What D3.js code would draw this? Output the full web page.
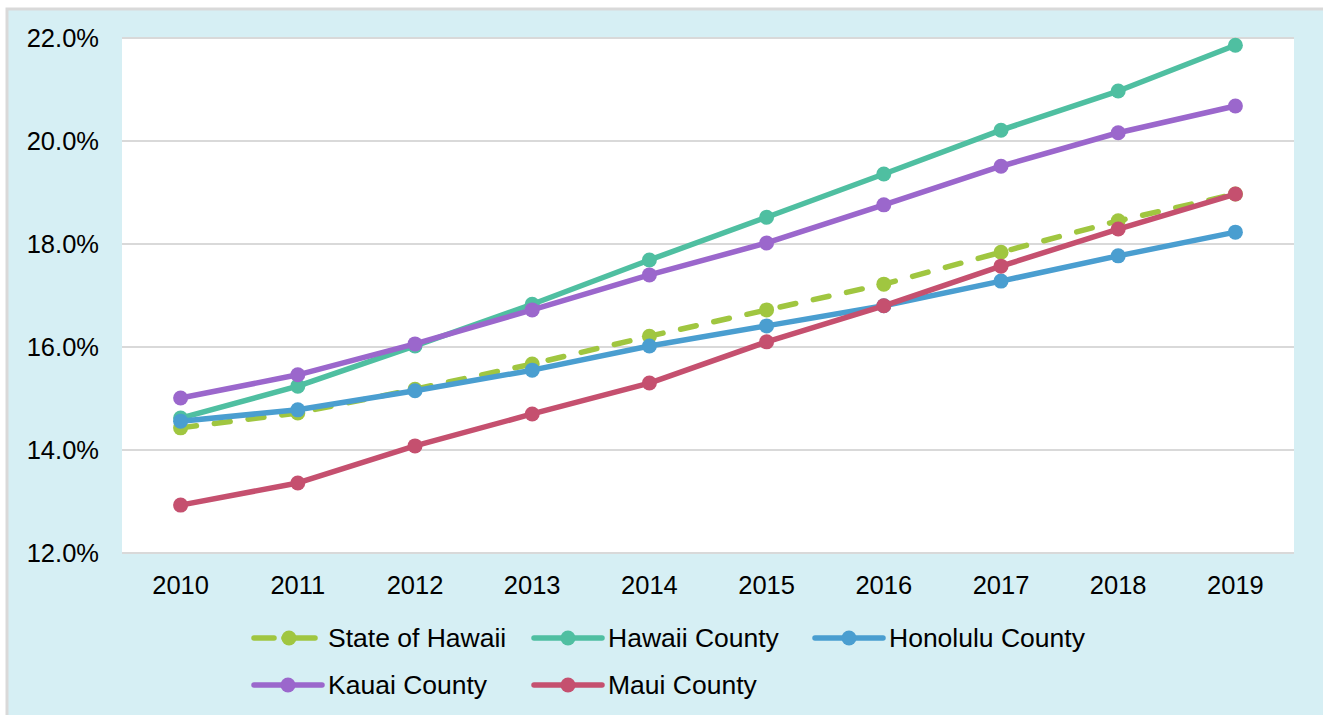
<!DOCTYPE html>
<html>
<head>
<meta charset="utf-8">
<script src="https://cdn.jsdelivr.net/npm/d3@7"></script>
<style>
  body { margin: 0; background: #fff; }
  text { font-family: "Liberation Sans", Arial, sans-serif; fill: #000; }
</style>
</head>
<body>
<div id="chart"></div>
<script>
const width = 1323;
const height = 715;

const years = ["2010", "2011", "2012", "2013", "2014", "2015", "2016", "2017", "2018", "2019"];
const yTicks = [12, 14, 16, 18, 20, 22];

const stateOfHawaii = [14.43, 14.72, 15.18, 15.67, 16.21, 16.72, 17.22, 17.84, 18.45, 18.97];
const hawaiiCounty = [14.62, 15.24, 16.02, 16.83, 17.69, 18.52, 19.36, 20.21, 20.97, 21.86];
const honoluluCounty = [14.56, 14.78, 15.15, 15.55, 16.02, 16.41, 16.80, 17.28, 17.77, 18.23];
const kauaiCounty = [15.01, 15.46, 16.06, 16.72, 17.40, 18.02, 18.76, 19.51, 20.16, 20.68];
const mauiCounty = [12.93, 13.36, 14.08, 14.70, 15.30, 16.10, 16.80, 17.57, 18.29, 18.97];

const series = [
    { name: "Hawaii County", values: hawaiiCounty, color: "#4fbfa1", dashed: false },
    { name: "Kauai County", values: kauaiCounty, color: "#9b67cc", dashed: false },
    { name: "State of Hawaii", values: stateOfHawaii, color: "#a0c640", dashed: true },
    { name: "Honolulu County", values: honoluluCounty, color: "#4a9ed0", dashed: false },
    { name: "Maui County", values: mauiCounty, color: "#c5506f", dashed: false }
];

const plot = { left: 122, right: 1294, top: 38, bottom: 553 };
const fontSize = "25.5px";
const legendFontSize = "26.5px";

const svg = d3.select("#chart")
    .append("svg")
    .attr("width", width)
    .attr("height", height);

// background panel
svg.append("rect")
    .attr("x", 7).attr("y", 9)
    .attr("width", width).attr("height", height)
    .attr("fill", "#d6eff4")
    .attr("stroke", "#d9d9d9")
    .attr("stroke-width", 3);

svg.append("rect")
    .attr("x", plot.left).attr("y", plot.top)
    .attr("width", plot.right - plot.left).attr("height", plot.bottom - plot.top)
    .attr("fill", "#fff");

const x = d3.scaleBand()
    .domain(years)
    .range([plot.left, plot.right]);

const y = d3.scaleLinear()
    .domain([12, 22])
    .range([plot.bottom, plot.top]);

// gridlines
svg.append("g")
    .selectAll("line")
    .data(yTicks)
    .enter().append("line")
    .attr("x1", plot.left)
    .attr("x2", plot.right)
    .attr("y1", d => y(d))
    .attr("y2", d => y(d))
    .attr("stroke", "#d9d9d9")
    .attr("stroke-width", 2);

// y axis labels
svg.append("g")
    .selectAll("text")
    .data(yTicks)
    .enter().append("text")
    .attr("x", 99)
    .attr("y", d => y(d) + 9)
    .attr("text-anchor", "end")
    .style("font-size", fontSize)
    .text(d => d.toFixed(1) + "%");

// x axis labels
svg.append("g")
    .selectAll("text")
    .data(years)
    .enter().append("text")
    .attr("x", d => x(d) + x.bandwidth() / 2)
    .attr("y", 594)
    .attr("text-anchor", "middle")
    .style("font-size", fontSize)
    .text(d => d);

const line = d3.line()
    .x((d, i) => x(years[i]) + x.bandwidth() / 2)
    .y(d => y(d));

const lines = svg.append("g");
series.forEach(s => {
    const g = lines.append("g");
    g.append("path")
        .attr("d", line(s.values))
        .attr("fill", "none")
        .attr("stroke", s.color)
        .attr("stroke-width", 5.5)
        .attr("stroke-linecap", "round")
        .attr("stroke-linejoin", "round")
        .attr("stroke-dasharray", s.dashed ? "16,18" : null);
    g.selectAll("circle")
        .data(s.values)
        .enter().append("circle")
        .attr("cx", (d, i) => x(years[i]) + x.bandwidth() / 2)
        .attr("cy", d => y(d))
        .attr("r", 7.5)
        .attr("fill", s.color);
});

// legend
const legendItems = [
    { name: "State of Hawaii", x: 252, y: 638 },
    { name: "Hawaii County", x: 532, y: 638 },
    { name: "Honolulu County", x: 813, y: 638 },
    { name: "Kauai County", x: 252, y: 685 },
    { name: "Maui County", x: 532, y: 685 }
];

legendItems.forEach(item => {
    const s = series.find(d => d.name === item.name);
    const g = svg.append("g").attr("transform", `translate(${item.x},${item.y})`);
    if (s.dashed) {
        g.append("line")
            .attr("x1", 2).attr("x2", 22).attr("y1", 0).attr("y2", 0)
            .attr("stroke", s.color).attr("stroke-width", 5.5).attr("stroke-linecap", "round");
        g.append("line")
            .attr("x1", 32).attr("x2", 63).attr("y1", 0).attr("y2", 0)
            .attr("stroke", s.color).attr("stroke-width", 5.5).attr("stroke-linecap", "round");
        g.append("circle").attr("cx", 37).attr("cy", 0).attr("r", 7.5).attr("fill", s.color);
        g.append("text")
            .attr("x", 76).attr("y", 9)
            .style("font-size", legendFontSize)
            .text(s.name);
    } else {
        g.append("line")
            .attr("x1", 2).attr("x2", 70).attr("y1", 0).attr("y2", 0)
            .attr("stroke", s.color).attr("stroke-width", 5.5).attr("stroke-linecap", "round");
        g.append("circle").attr("cx", 36).attr("cy", 0).attr("r", 7.5).attr("fill", s.color);
        g.append("text")
            .attr("x", 76).attr("y", 9)
            .style("font-size", legendFontSize)
            .text(s.name);
    }
});
</script>
</body>
</html>
